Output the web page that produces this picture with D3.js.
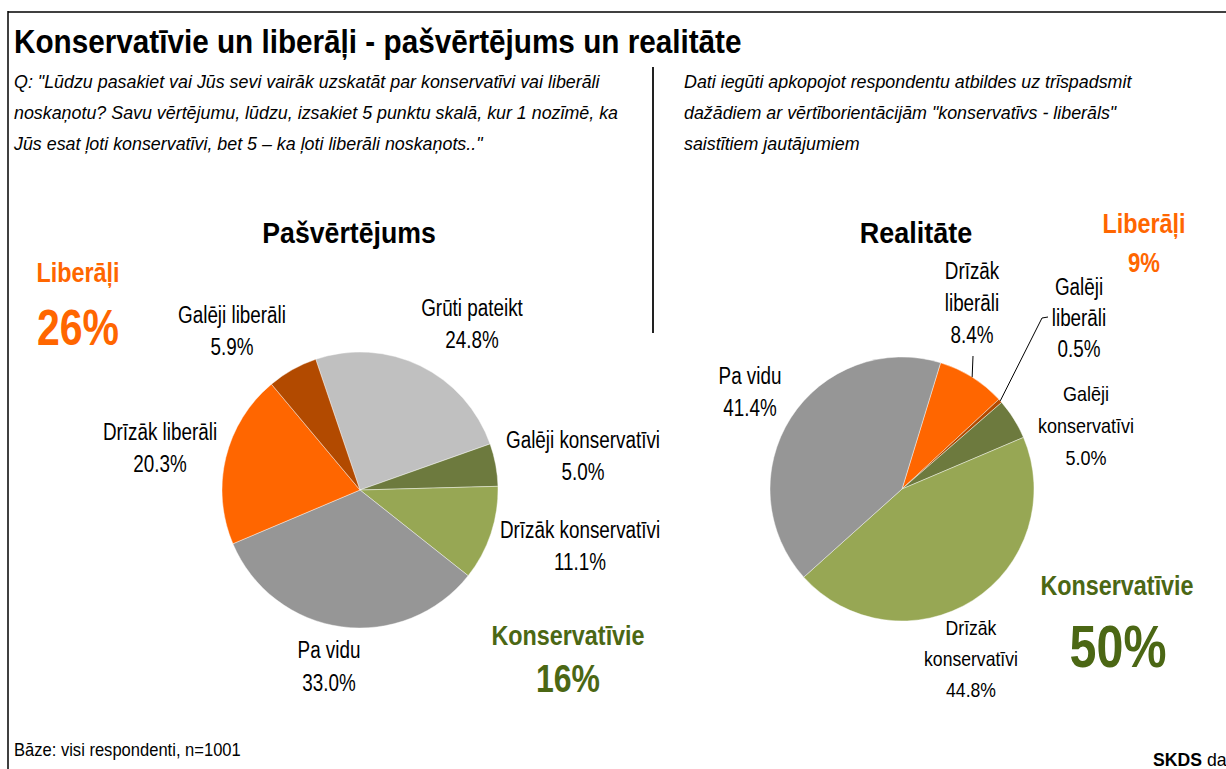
<!DOCTYPE html>
<html>
<head>
<meta charset="utf-8">
<script src="https://cdn.jsdelivr.net/npm/d3@7/dist/d3.min.js"></script>
<style>
  html, body { margin: 0; padding: 0; background: #fff; overflow: hidden; }
  svg { display: block; }
  text { font-family: "Liberation Sans", Arial, sans-serif; }
</style>
</head>
<body>
<svg id="chart" width="1226" height="769"></svg>
<script>
// ---------- DATA ----------
const titleText = "Konservatīvie un liberāļi - pašvērtējums un realitāte";
const questionLines = [
  "Q: \"Lūdzu pasakiet vai Jūs sevi vairāk uzskatāt par konservatīvi vai liberāli",
  "noskaņotu? Savu vērtējumu, lūdzu, izsakiet 5 punktu skalā, kur 1 nozīmē, ka",
  "Jūs esat ļoti konservatīvi, bet 5 – ka ļoti liberāli noskaņots..\""
];
const noteLines = [
  "Dati iegūti apkopojot respondentu atbildes uz trīspadsmit",
  "dažādiem ar vērtīborientācijām \"konservatīvs - liberāls\"",
  "saistītiem jautājumiem"
];
const selfTitle = "Pašvērtējums";
const selfCategories = ["Grūti pateikt", "Galēji konservatīvi", "Drīzāk konservatīvi", "Pa vidu", "Drīzāk liberāli", "Galēji liberāli"];
const selfValues = [24.8, 5.0, 11.1, 33.0, 20.3, 5.9];
const selfLiberal = 26, selfConservative = 16;

const realTitle = "Realitāte";
const realCategories = ["Drīzāk liberāli", "Galēji liberāli", "Galēji konservatīvi", "Drīzāk konservatīvi", "Pa vidu"];
const realValues = [8.4, 0.5, 5.0, 44.8, 41.4];
const realLiberal = 9, realConservative = 50;

const groupLiberal = "Liberāļi";
const groupConservative = "Konservatīvie";
const baseText = "Bāze: visi respondenti, n=1001";
const sourceBold = "SKDS", sourceRest = " da";

// ---------- STYLE / LAYOUT ----------
const colors = {
  "Galēji liberāli": "#B24A00",
  "Drīzāk liberāli": "#FF6600",
  "Pa vidu": "#969696",
  "Grūti pateikt": "#C0C0C0",
  "Galēji konservatīvi": "#6D7A3E",
  "Drīzāk konservatīvi": "#97A754"
};
const ORANGE = "#FF6600", GREEN = "#4B6714";
const SX = 0.82; // narrow font emulation

const svg = d3.select("#chart");

function txt(x, y, s, o = {}) {
  const t = svg.append("text")
    .attr("transform", `translate(${x},${y}) scale(${o.sx || SX},1)`)
    .attr("text-anchor", o.anchor || "start")
    .attr("font-size", o.size || 23)
    .attr("font-weight", o.weight || "normal")
    .attr("font-style", o.style || "normal")
    .attr("fill", o.fill || "#000")
    .text(s);
  return t;
}

// frame
svg.append("line").attr("x1", 8).attr("x2", 1226).attr("y1", 12).attr("y2", 12)
  .attr("stroke", "#404040").attr("stroke-width", 2);
svg.append("line").attr("x1", 8).attr("x2", 8).attr("y1", 11).attr("y2", 769)
  .attr("stroke", "#000").attr("stroke-width", 1.5);
// divider
svg.append("line").attr("x1", 653).attr("x2", 653).attr("y1", 67).attr("y2", 333)
  .attr("stroke", "#222").attr("stroke-width", 2);

// title & texts
txt(14, 53, titleText, { size: 33, weight: "bold", sx: 0.9 });
questionLines.forEach((l, i) => txt(14, 88 + i * 31, l, { size: 19, style: "italic", sx: 0.94 }));
noteLines.forEach((l, i) => txt(684, 88 + i * 31, l, { size: 19, style: "italic", sx: 0.94 }));

// ---------- PIES ----------
function drawPie(cfg) {
  const a0 = cfg.startDeg * Math.PI / 180;
  const pie = d3.pie().sort(null).value(d => d.v)
    .startAngle(a0).endAngle(a0 + 2 * Math.PI);
  const data = cfg.categories.map((c, i) => ({ c, v: cfg.values[i] }));
  const arcs = pie(data);
  const arc = d3.arc().innerRadius(0).outerRadius(cfg.r);
  const edge = d3.arc().innerRadius(cfg.r).outerRadius(cfg.r);
  const g = svg.append("g").attr("transform", `translate(${cfg.cx},${cfg.cy})`);
  g.selectAll("path").data(arcs).join("path")
    .attr("d", arc)
    .attr("fill", d => colors[d.data.c])
    .attr("stroke", "rgba(255,255,255,0.6)")
    .attr("stroke-width", 0.7);

  arcs.forEach((d, i) => {
    const L = cfg.labels[i];
    const lines = L.lines.concat([d.data.v.toFixed(1) + "%"]);
    lines.forEach((s, k) => txt(cfg.cx + L.dx, cfg.cy + L.dy + k * L.step, s,
      { size: L.size, anchor: "middle", sx: L.sx }));
    if (L.leader) {
      const p = edge.centroid(d);
      const pts = [[cfg.cx + p[0], cfg.cy + p[1]]].concat(L.leader.map(q => [cfg.cx + q[0], cfg.cy + q[1]]));
      svg.append("path").attr("d", d3.line()(pts))
        .attr("fill", "none").attr("stroke", "#000").attr("stroke-width", 1);
    }
  });
}

drawPie({
  cx: 360, cy: 490, r: 138, startDeg: -18.7,
  categories: selfCategories, values: selfValues,
  labels: [
    { lines: ["Grūti pateikt"], dx: 112, dy: -174, step: 32, size: 23 },
    { lines: ["Galēji konservatīvi"], dx: 223, dy: -42, step: 32, size: 23 },
    { lines: ["Drīzāk konservatīvi"], dx: 220, dy: 48, step: 32, size: 23 },
    { lines: ["Pa vidu"], dx: -31, dy: 168, step: 33, size: 23 },
    { lines: ["Drīzāk liberāli"], dx: -200, dy: -50, step: 32, size: 23 },
    { lines: ["Galēji liberāli"], dx: -128, dy: -167, step: 32, size: 23 }
  ]
});

drawPie({
  cx: 902, cy: 489, r: 132, startDeg: 17,
  categories: realCategories, values: realValues,
  labels: [
    { lines: ["Drīzāk", "liberāli"], dx: 70, dy: -210, step: 32, size: 23, leader: [[71, -133]] },
    { lines: ["Galēji", "liberāli"], dx: 177, dy: -194, step: 31, size: 23, leader: [[140, -171], [146, -172]] },
    { lines: ["Galēji", "konservatīvi"], dx: 184, dy: -88, step: 32, size: 20, sx: 0.9 },
    { lines: ["Drīzāk", "konservatīvi"], dx: 69, dy: 146, step: 31, size: 20, sx: 0.88 },
    { lines: ["Pa vidu"], dx: -152, dy: -105, step: 32, size: 23 }
  ]
});

// pie titles
txt(349, 243, selfTitle, { size: 29, weight: "bold", anchor: "middle", sx: 0.92 });
txt(916, 243, realTitle, { size: 29, weight: "bold", anchor: "middle", sx: 0.93 });

// group totals
txt(78, 282, groupLiberal, { size: 28.5, weight: "bold", anchor: "middle", fill: ORANGE });
txt(78, 345, selfLiberal + "%", { size: 50, weight: "bold", anchor: "middle", fill: ORANGE });
txt(568, 645, groupConservative, { size: 28.5, weight: "bold", anchor: "middle", fill: GREEN });
txt(568, 692, selfConservative + "%", { size: 39, weight: "bold", anchor: "middle", fill: GREEN });

txt(1144, 233, groupLiberal, { size: 28.5, weight: "bold", anchor: "middle", fill: ORANGE });
txt(1144, 272, realLiberal + "%", { size: 27, weight: "bold", anchor: "middle", fill: ORANGE });
txt(1117, 595, groupConservative, { size: 28.5, weight: "bold", anchor: "middle", fill: GREEN });
txt(1118, 667, realConservative + "%", { size: 59, weight: "bold", anchor: "middle", fill: GREEN });

// footer
txt(14, 756, baseText, { size: 18, sx: 0.92 });
const src = txt(1153, 766, "", { size: 18, sx: 0.98 });
src.append("tspan").attr("font-weight", "bold").text(sourceBold);
src.append("tspan").text(sourceRest);
</script>
</body>
</html>
